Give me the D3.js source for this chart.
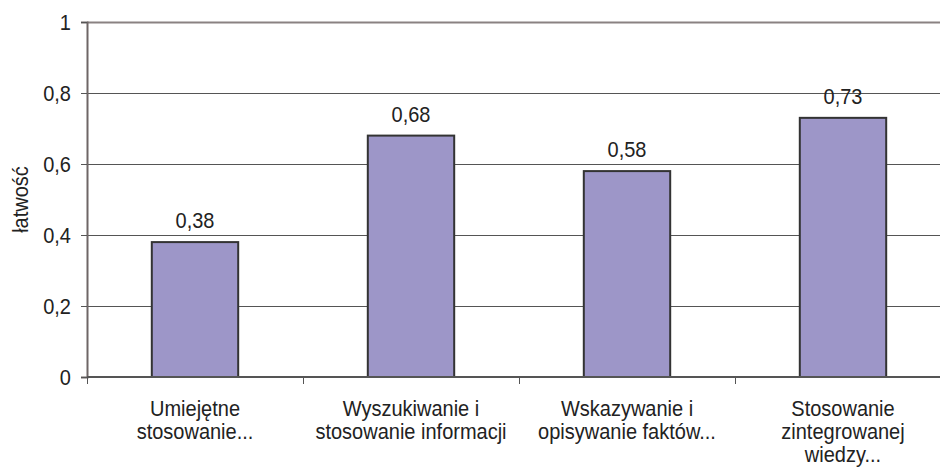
<!DOCTYPE html>
<html>
<head>
<meta charset="utf-8">
<script src="https://cdn.jsdelivr.net/npm/d3@7"></script>
<style>
  body { margin: 0; background: #fff; }
  text { font-family: "Liberation Sans", Arial, sans-serif; fill: #222; }
</style>
</head>
<body>
<script>
// dane z wykresu
const categories = [
  ["Umiejętne", "stosowanie..."],
  ["Wyszukiwanie i", "stosowanie informacji"],
  ["Wskazywanie i", "opisywanie faktów..."],
  ["Stosowanie", "zintegrowanej", "wiedzy..."]
]
const values = [0.38, 0.68, 0.58, 0.73]
const yTicks = [0, 0.2, 0.4, 0.6, 0.8, 1]
const yTitle = "łatwość"

const W = 940, H = 471
const plotLeft = 87, plotTop = 22, plotBottom = 377
const step = 216
const plotRight = plotLeft + step * categories.length
const fontSize = "20px"
const stretch = 1.14 // tekst w oryginale jest lekko wyciągnięty w pionie

const svg = d3.select("body").append("svg")
  .attr("width", W)
  .attr("height", H)

const x = d3.scaleBand()
  .domain(d3.range(categories.length))
  .range([plotLeft, plotRight])
  .paddingInner(0.6)
  .paddingOuter(0.3)

const y = d3.scaleLinear().domain([0, 1]).range([plotBottom, plotTop])

const fmt = v => String(v).replace(".", ",")

// linie siatki
svg.append("g")
  .selectAll("line")
  .data(yTicks.filter(t => t > 0 && t < 1))
  .enter().append("line")
  .attr("x1", plotLeft).attr("x2", W)
  .attr("y1", d => y(d) + 0.5).attr("y2", d => y(d) + 0.5)
  .attr("stroke", "#555").attr("stroke-width", 1)

// górna ramka
svg.append("line")
  .attr("x1", plotLeft).attr("x2", W)
  .attr("y1", y(1) + 0.5).attr("y2", y(1) + 0.5)
  .attr("stroke", "#8a8282").attr("stroke-width", 2)

// oś Y
const yAxis = svg.append("g")
  .attr("transform", `translate(${plotLeft},0)`)
  .call(d3.axisLeft(y).tickValues(yTicks).tickFormat(fmt).tickSize(6).tickPadding(10))
yAxis.select(".domain").attr("stroke", "#6e6666").attr("stroke-width", 2)
yAxis.selectAll(".tick line").attr("stroke", "#555")
yAxis.selectAll("text")
  .style("font-size", fontSize)
  .attr("fill", "#222")
  .attr("transform", `scale(1,${stretch})`)

// słupki
svg.append("g")
  .selectAll("rect")
  .data(values)
  .enter().append("rect")
  .attr("x", (d, i) => x(i))
  .attr("y", d => y(d))
  .attr("width", x.bandwidth())
  .attr("height", d => y(0) - y(d))
  .attr("fill", "#9d96c8")
  .attr("stroke", "#333")
  .attr("stroke-width", 2)

// etykiety wartości
svg.append("g")
  .selectAll("text")
  .data(values)
  .enter().append("text")
  .attr("transform", (d, i) => `translate(${x(i) + x.bandwidth() / 2},${y(d) - 14}) scale(1,${stretch})`)
  .attr("text-anchor", "middle")
  .style("font-size", fontSize)
  .text(fmt)

// oś X
const xAxis = svg.append("g")
  .attr("transform", `translate(0,${plotBottom})`)
xAxis.append("line")
  .attr("x1", plotLeft).attr("x2", W)
  .attr("y1", 0).attr("y2", 0)
  .attr("stroke", "#555").attr("stroke-width", 2)
xAxis.selectAll(".xt")
  .data(d3.range(categories.length + 1))
  .enter().append("line")
  .attr("class", "xt")
  .attr("x1", i => plotLeft + i * step + 0.5).attr("x2", i => plotLeft + i * step + 0.5)
  .attr("y1", 0).attr("y2", 7)
  .attr("stroke", "#555")

const lines = categories.flatMap((c, i) => c.map((s, j) => ({ s, i, j })))
xAxis.selectAll(".xl")
  .data(lines)
  .enter().append("text")
  .attr("class", "xl")
  .attr("transform", d => `translate(${x(d.i) + x.bandwidth() / 2},${39 + d.j * 23}) scale(1,${stretch})`)
  .attr("text-anchor", "middle")
  .style("font-size", fontSize)
  .text(d => d.s)

// tytuł osi Y
svg.append("text")
  .attr("transform", `translate(28,${(plotTop + plotBottom) / 2}) rotate(-90) scale(1,${stretch})`)
  .attr("text-anchor", "middle")
  .style("font-size", fontSize)
  .text(yTitle)
</script>
</body>
</html>
